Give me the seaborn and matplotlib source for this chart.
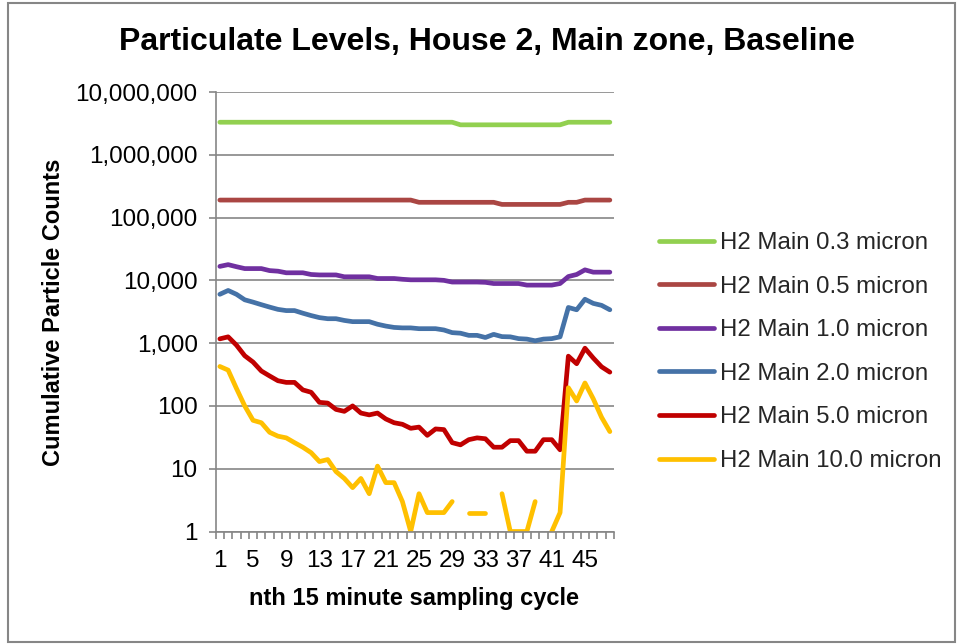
import numpy as np
import pandas as pd
import matplotlib
matplotlib.use("Agg")
import matplotlib.pyplot as plt
import seaborn as sns
from matplotlib.ticker import FixedLocator, FuncFormatter, NullLocator, NullFormatter
from matplotlib.lines import Line2D
from matplotlib.patches import Rectangle

# ---------------- data ----------------
cycles = list(range(1, 49))
series_names = ["H2 Main 0.3 micron", "H2 Main 0.5 micron", "H2 Main 1.0 micron",
                "H2 Main 2.0 micron", "H2 Main 5.0 micron", "H2 Main 10.0 micron"]

pm_03 = [3300000, 3300000, 3300000, 3300000, 3300000, 3300000, 3300000, 3300000,
         3300000, 3300000, 3300000, 3300000, 3300000, 3300000, 3300000, 3300000,
         3300000, 3300000, 3300000, 3300000, 3300000, 3300000, 3300000, 3300000,
         3300000, 3300000, 3300000, 3300000, 3300000, 3000000, 3000000, 3000000,
         3000000, 3000000, 3000000, 3000000, 3000000, 3000000, 3000000, 3000000,
         3000000, 3000000, 3300000, 3300000, 3300000, 3300000, 3300000, 3300000]
pm_05 = [190000, 190000, 190000, 190000, 190000, 190000, 190000, 190000,
         190000, 190000, 190000, 190000, 190000, 190000, 190000, 190000,
         190000, 190000, 190000, 190000, 190000, 190000, 190000, 190000,
         175000, 175000, 175000, 175000, 175000, 175000, 175000, 175000,
         175000, 175000, 162000, 162000, 162000, 162000, 162000, 162000,
         162000, 162000, 175000, 175000, 190000, 190000, 190000, 190000]
pm_10 = [16700, 17800, 16500, 15400, 15400, 15400, 14300, 14000,
         13200, 13200, 13200, 12400, 12200, 12200, 12200, 11400,
         11400, 11400, 11400, 10700, 10700, 10700, 10400, 10200,
         10200, 10200, 10200, 10000, 9400, 9400, 9400, 9400,
         9300, 8900, 8900, 8900, 8900, 8400, 8400, 8400,
         8400, 8900, 11500, 12400, 14700, 13500, 13500, 13500]
pm_20 = [6000, 6900, 6000, 4900, 4500, 4100, 3750, 3450,
         3300, 3300, 3000, 2750, 2550, 2450, 2450, 2300,
         2200, 2200, 2200, 2000, 1870, 1780, 1750, 1750,
         1700, 1700, 1700, 1620, 1470, 1440, 1330, 1330,
         1230, 1380, 1270, 1260, 1180, 1160, 1090, 1160,
         1180, 1260, 3700, 3400, 5000, 4300, 4000, 3400]
pm_50 = [1170, 1260, 930, 630, 500, 360, 300, 252,
         237, 237, 180, 165, 114, 111, 88, 82,
         100, 77, 72, 77, 62, 54, 51, 44,
         46, 34, 43, 42, 26, 24, 29, 31,
         30, 22, 22, 28, 28, 19, 19, 29,
         29, 20, 620, 470, 830, 580, 420, 345]
pm_100 = [425, 372, 190, 100, 59, 54, 38, 33,
          31, 26, 22, 18, 13, 14, 9, 7,
          5, 7, 4, 11, 6, 6, 3, 1,
          4, 2, 2, 2, 3, np.nan, 2, 2,
          2, np.nan, 4, 1, 1, 1, 3, np.nan,
          1, 2, 195, 120, 232, 130, 66, 39]

all_series = [pm_03, pm_05, pm_10, pm_20, pm_50, pm_100]
colors = ["#92D050", "#AA4643", "#7030A0", "#4572A7", "#C00000", "#FFC000"]

x_tick_values = [1, 5, 9, 13, 17, 21, 25, 29, 33, 37, 41, 45]
y_tick_values = [1, 10, 100, 1000, 10000, 100000, 1000000, 10000000]

title_text = "Particulate Levels, House 2, Main zone, Baseline"
x_label = "nth 15 minute sampling cycle"
y_label = "Cumulative Particle Counts"

# ---------------- long table (zero readings break the line on log scale) ----------------
rows = []
for name, vals in zip(series_names, all_series):
    seg = 0
    for c, v in zip(cycles, vals):
        if v is None or np.isnan(v):
            seg += 1
            continue
        rows.append({"cycle": c, "count": v, "series": name, "seg": f"{name}|{seg}"})
df = pd.DataFrame(rows)

# ---------------- figure ----------------
sns.set_theme(style="white")
plt.rcParams["font.family"] = ["Liberation Sans", "DejaVu Sans"]

W, H = 959, 644
fig = plt.figure(figsize=(W / 100, H / 100), dpi=100)
fig.patch.set_facecolor("white")

ax_l, ax_r, ax_t, ax_b = 215.7, 614.0, 92.0, 531.5
ax = fig.add_axes([ax_l / W, 1 - ax_b / H, (ax_r - ax_l) / W, (ax_b - ax_t) / H])
ax.set_yscale("log")

lw = 3.4
sns.lineplot(data=df, x="cycle", y="count", hue="series", hue_order=series_names,
             palette=dict(zip(series_names, colors)), units="seg", estimator=None,
             sort=False, linewidth=lw, legend=False, ax=ax,
             solid_capstyle="round", solid_joinstyle="round")

grid_c = "#868686"
ax.set_xlim(0.5, 48.5)
ax.set_ylim(1, 10000000)

ax.yaxis.set_major_locator(FixedLocator(y_tick_values))
ax.yaxis.set_minor_locator(NullLocator())
ax.yaxis.set_major_formatter(FuncFormatter(lambda v, p: f"{int(round(v)):,}"))
ax.xaxis.set_major_locator(FixedLocator(x_tick_values))
ax.xaxis.set_major_formatter(FuncFormatter(lambda v, p: f"{int(v)}"))
ax.xaxis.set_minor_locator(FixedLocator(np.arange(0.5, 49, 1.0)))
ax.xaxis.set_minor_formatter(NullFormatter())

ax.yaxis.grid(True, which="major", color=grid_c, linewidth=1.2)
ax.xaxis.grid(False)
ax.set_axisbelow(True)

for s in ["top", "right"]:
    ax.spines[s].set_visible(False)
for s in ["left", "bottom"]:
    ax.spines[s].set_color(grid_c)
    ax.spines[s].set_linewidth(1.2)

tick_fs = 17.5
ax.tick_params(axis="y", which="major", direction="out", length=5, width=1.2,
               color=grid_c, pad=8, labelsize=tick_fs, labelcolor="black", left=True)
ax.tick_params(axis="x", which="major", length=0, pad=13, labelsize=tick_fs,
               labelcolor="black", bottom=True)
ax.tick_params(axis="x", which="minor", direction="out", length=5, width=1.2,
               color=grid_c, bottom=True)

ax.set_xlabel(x_label, fontsize=17, fontweight="bold", color="black")
ax.xaxis.set_label_coords((414 - ax_l) / (ax_r - ax_l), (ax_b - 598) / (ax_b - ax_t))
ax.xaxis.label.set_va("center")
ax.set_ylabel(y_label, fontsize=17, fontweight="bold", color="black")
ax.yaxis.set_label_coords((54 - ax_l) / (ax_r - ax_l), (ax_b - 312) / (ax_b - ax_t))
ax.yaxis.label.set_va("center")

fig.text(487 / W, 1 - 42 / H, title_text, ha="center", va="center",
         fontsize=23, fontweight="bold", color="black")

handles = [Line2D([0], [0], color=c, lw=lw, solid_capstyle="round") for c in colors]
fig.legend(handles, series_names, loc="center left",
           bbox_to_anchor=(659 / W, 1 - 352 / H), frameon=False, fontsize=17.3,
           handlelength=2.3, handletextpad=0.25, labelspacing=0.9,
           borderpad=0, borderaxespad=0)

fig.patches.append(Rectangle((8 / W, 2 / H), (955 - 8) / W, (641 - 2) / H,
                             transform=fig.transFigure, fill=False,
                             edgecolor=grid_c, linewidth=1.5))

fig.savefig("out.png", dpi=100)
